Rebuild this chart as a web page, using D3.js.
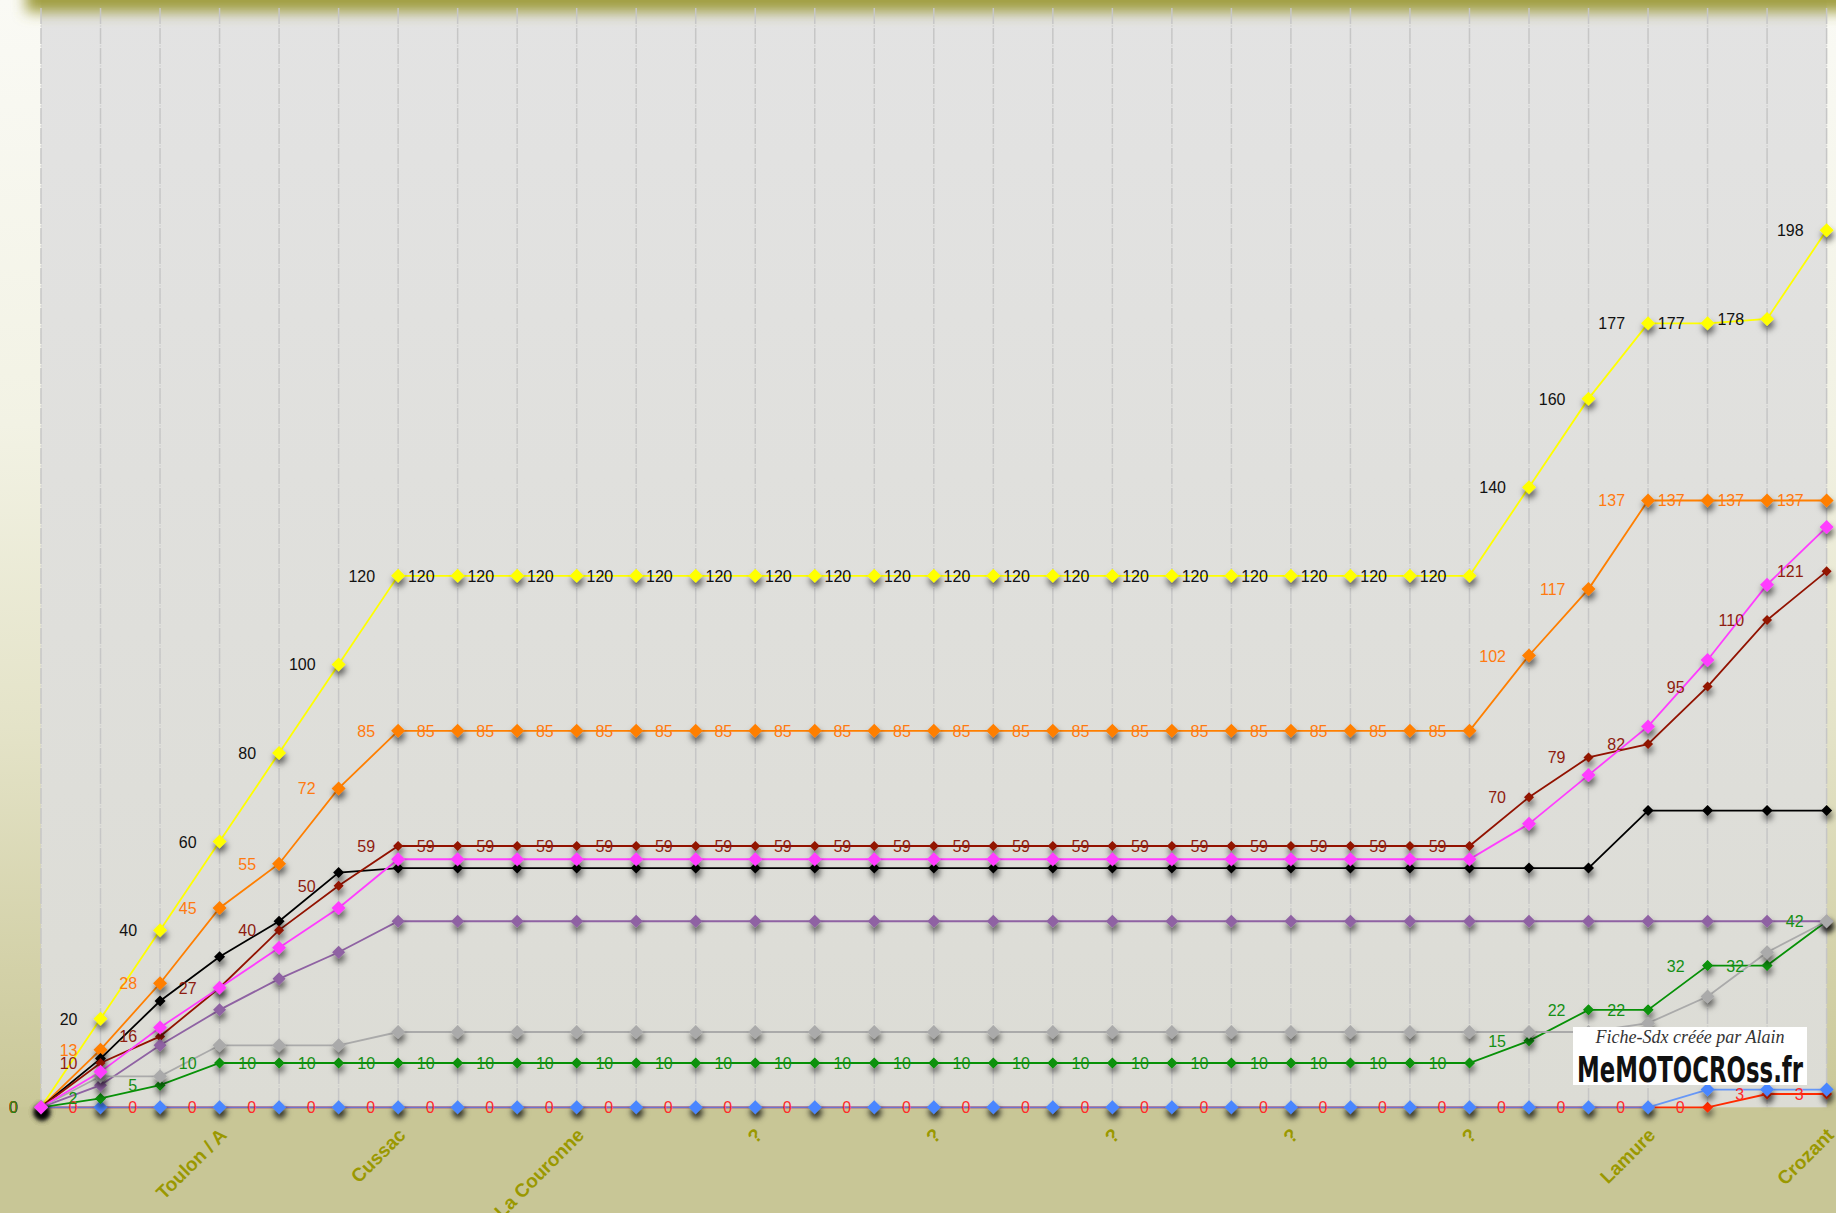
<!DOCTYPE html>
<html><head><meta charset="utf-8">
<script src="https://cdn.jsdelivr.net/npm/d3@7"></script>
<style>html,body{margin:0;padding:0;overflow:hidden;background:#c8c696}</style>
</head><body><svg id="c" width="1836" height="1213"></svg>
<script>
// ---- data ----
const categories = ["","","","Toulon / A","","","Cussac","","","La Couronne","","","?","","","?","","","?","","","?","","","?","","","Lamure","","","Crozant"];
const tickIdx = [3,6,9,12,15,18,21,24,27,30];
const yellowVals  = [0,20,40,60,80,100,120,120,120,120,120,120,120,120,120,120,120,120,120,120,120,120,120,120,120,140,160,177,177,178,198];
const orangeVals  = [0,13,28,45,55,72,85,85,85,85,85,85,85,85,85,85,85,85,85,85,85,85,85,85,85,102,117,137,137,137,137];
const blackVals   = [0,11,24,34,42,53,54,54,54,54,54,54,54,54,54,54,54,54,54,54,54,54,54,54,54,54,54,67,67,67,67];
const darkRedVals = [0,10,16,27,40,50,59,59,59,59,59,59,59,59,59,59,59,59,59,59,59,59,59,59,59,70,79,82,95,110,121];
const redVals     = [0,0,0,0,0,0,0,0,0,0,0,0,0,0,0,0,0,0,0,0,0,0,0,0,0,0,0,0,0,3,3];
const blueVals    = [0,0,0,0,0,0,0,0,0,0,0,0,0,0,0,0,0,0,0,0,0,0,0,0,0,0,0,0,4,4,4];
const greenVals   = [0,2,5,10,10,10,10,10,10,10,10,10,10,10,10,10,10,10,10,10,10,10,10,10,10,15,22,22,32,32,42];
const purpleVals  = [0,5,14,22,29,35,42,42,42,42,42,42,42,42,42,42,42,42,42,42,42,42,42,42,42,42,42,42,42,42,42];
const grayVals    = [0,7,7,14,14,14,17,17,17,17,17,17,17,17,17,17,17,17,17,17,17,17,17,17,17,17,17,19,25,35,42];
const magentaVals = [0,8,18,27,36,45,56,56,56,56,56,56,56,56,56,56,56,56,56,56,56,56,56,56,56,64,75,86,101,118,131];

const series = [
  {vals: yellowVals,  color:"#ffff00", size:14, label:"#111111", op:1},
  {vals: orangeVals,  color:"#ff7f00", size:14, label:"#ff7a10", op:1},
  {vals: blackVals,   color:"#000000", size:11, label:null, op:1},
  {vals: darkRedVals, color:"#921200", size:10, label:"#8e1c10", op:1},
  {vals: redVals,     color:"#ff2a00", size:11, label:"#ff2a2a", op:1},
  {vals: blueVals,    color:"#4a86ff", size:14, label:null, op:0.8},
  {vals: greenVals,   color:"#079107", size:11, label:"#158f15", op:1},
  {vals: purpleVals,  color:"#8f62a3", size:13, label:null, op:1},
  {vals: grayVals,    color:"#aaaaaa", size:14, label:null, op:1},
  {vals: magentaVals, color:"#ff3dff", size:14, label:null, op:1}
];

const W = 1836, H = 1213;
const svg = d3.select("#c");
const x = d3.scaleLinear().domain([0, 30]).range([41, 1826.6]);
const y = d3.scaleLinear().domain([0, 250]).range([1107.3, 0]);

const defs = svg.append("defs");
const bg = defs.append("linearGradient").attr("id","bg").attr("x1",0).attr("y1",0).attr("x2",0).attr("y2",1);
[[0,"#fafaf5"],[0.35,"#f2f2e4"],[0.6,"#e4e3c8"],[0.8,"#d3d1a8"],[0.92,"#c9c797"],[1,"#c8c696"]]
  .forEach(s => bg.append("stop").attr("offset", s[0]).attr("stop-color", s[1]));
const pg = defs.append("linearGradient").attr("id","pg").attr("x1",0).attr("y1",0).attr("x2",0).attr("y2",1);
[[0,"#e3e3e3"],[1,"#dcdcd5"]].forEach(s => pg.append("stop").attr("offset", s[0]).attr("stop-color", s[1]));
const blur = defs.append("filter").attr("id","blur").attr("x","-20%").attr("y","-200%").attr("width","140%").attr("height","500%");
blur.append("feGaussianBlur").attr("stdDeviation", 7);
const sh = defs.append("filter").attr("id","sh").attr("x","-100%").attr("y","-100%").attr("width","300%").attr("height","300%");
sh.append("feDropShadow").attr("dx",1).attr("dy",5).attr("stdDeviation",3).attr("flood-color","#000").attr("flood-opacity",0.62);

// background
svg.append("rect").attr("width", W).attr("height", H).attr("fill", "url(#bg)");
svg.append("rect").attr("x", 0).attr("y", y(0)).attr("width", W).attr("height", H - y(0)).attr("fill", "#c8c696");
svg.append("rect").attr("x", x(0)).attr("y", 0).attr("width", x(30) - x(0)).attr("height", y(0)).attr("fill", "url(#pg)");
// top band
svg.append("rect").attr("x", 26).attr("y", -30).attr("width", W + 40).attr("height", 42)
  .attr("fill", "#a09e40").attr("filter", "url(#blur)");

// grid
svg.append("g").selectAll("line").data(d3.range(31)).join("line")
  .attr("x1", d => x(d)).attr("x2", d => x(d)).attr("y1", 8).attr("y2", y(0))
  .attr("stroke", "#c6c6c6").attr("stroke-width", 1.5).attr("stroke-dasharray", "16,1.5,1,1.5");

// x axis
const axis = d3.axisBottom(x).tickValues(tickIdx).tickSize(0).tickFormat(d => categories[d]);
const ag = svg.append("g").attr("transform", `translate(0,${y(0)})`).call(axis);
ag.select(".domain").remove();
ag.selectAll("text")
  .attr("font-family", "'Liberation Sans', Arial, sans-serif").attr("font-weight", "bold")
  .attr("font-size", 19).attr("fill", "#9a9800")
  .attr("text-anchor", "end").attr("dy", null).attr("y", null)
  .attr("transform", "translate(8,29) rotate(-45)");

// lines + markers
const line = d3.line().x((d, i) => x(i)).y(d => y(d));
series.forEach(s => {
  svg.append("path").datum(s.vals).attr("d", line).attr("fill", "none")
    .attr("stroke", s.color).attr("stroke-width", 1.8).attr("stroke-opacity", s.op);
});
series.forEach(s => {
  const r = s.size / 2;
  svg.append("g").attr("filter", "url(#sh)").selectAll("path").data(s.vals).join("path")
    .attr("d", (d, i) => `M${x(i)},${y(d) - r}L${x(i) + r},${y(d)}L${x(i)},${y(d) + r}L${x(i) - r},${y(d)}Z`)
    .attr("fill", s.color);
});
// labels
series.filter(s => s.label).forEach(s => {
  svg.append("g").selectAll("text").data(s.vals).join("text")
    .attr("x", (d, i) => x(i) - 23).attr("y", d => y(d) + 6)
    .attr("text-anchor", "end")
    .attr("font-family", "'Liberation Sans Narrow', 'Arial Narrow', 'Liberation Sans', sans-serif")
    .attr("font-size", 16).attr("fill", s.label)
    .text(d => d);
});

// logo box
const lg = svg.append("g");
lg.append("rect").attr("x", 1573).attr("y", 1027).attr("width", 234).attr("height", 58).attr("fill", "#ffffff");
lg.append("text").attr("x", 1690).attr("y", 1043).attr("text-anchor", "middle")
  .attr("font-family", "'Liberation Serif', 'Times New Roman', serif").attr("font-style", "italic")
  .attr("font-size", 18).attr("fill", "#333").text("Fiche-Sdx créée par Alain");
lg.append("text").attr("x", 1577).attr("y", 1082)
  .attr("font-family", "'DejaVu Sans', sans-serif").attr("font-weight", "bold")
  .attr("font-size", 36).attr("fill", "#111")
  .attr("textLength", 226).attr("lengthAdjust", "spacingAndGlyphs").text("MeMOTOCROss.fr");
</script></body></html>
